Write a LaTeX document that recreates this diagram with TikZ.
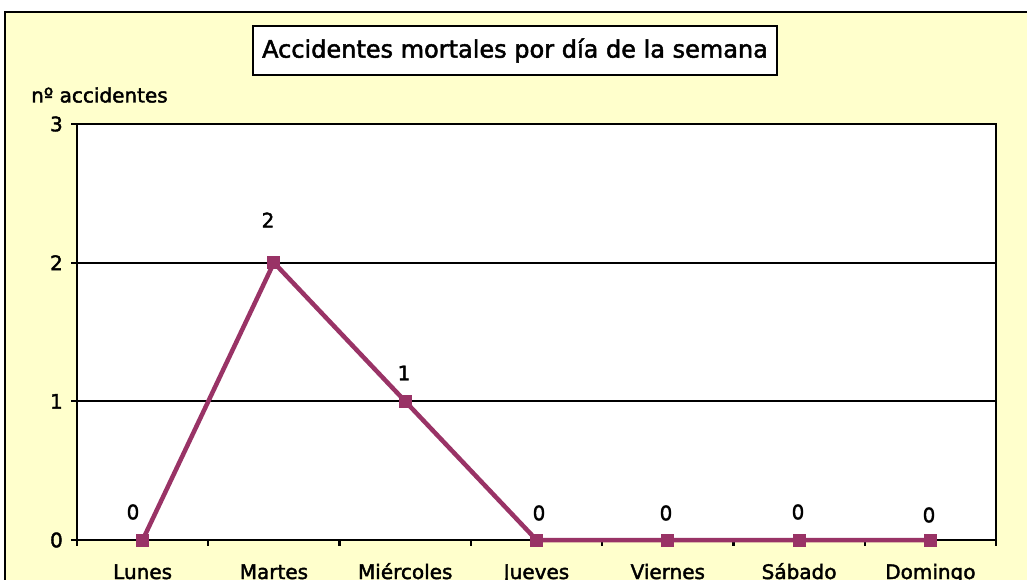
\documentclass[tikz,border=0pt]{standalone}
\usepackage{fontspec}
\setmainfont{DejaVu Sans}[FakeBold=2]
\definecolor{fondo}{HTML}{FFFFCC}
\definecolor{serie}{HTML}{993366}
\tikzset{
	marca/.style={rectangle, fill=serie, minimum size=13pt, inner sep=0pt},
	rotulo/.style={font=\fontsize{20}{24}\selectfont, inner sep=0pt},
	eje/.style={line width=2.2pt},
}
\begin{document}
\begin{tikzpicture}[x=1pt, y=-1pt]
		\useasboundingbox (0,0) rectangle (1027,580);
		\fill[white] (0,0) rectangle (1027,580);
		\draw[line width=2.2pt, fill=fondo] (5,12) rectangle (1040,600);
		\coordinate (A) at (77,540);
		\coordinate (B) at (996,124);
		\draw[eje, fill=white] (A) rectangle (B);
		\foreach \v in {1,2}
			\draw[line width=2pt] (77,{540-138.67*\v}) -- (996,{540-138.67*\v});
		\foreach \v in {0,...,3} {
			\draw[eje] (71,{540-138.67*\v}) -- (77,{540-138.67*\v});
			\node[rotulo, anchor=east] (y\v) at (63,{540-138.67*\v}) {\v};
		}
		\foreach \k in {0,...,7}
			\draw[eje] ({77+131.29*\k},540) -- ++(0,6);
		\foreach \d [count=\i] in {Lunes,Martes,Miércoles,Jueves,Viernes,Sábado,Domingo}
			\node[rotulo, anchor=base] (dia\i) at ({77+131.29*(\i-0.5)},579) {\d};
		\node[rotulo, anchor=west] (ejey) at (31,95) {nº accidentes};
		\node[draw, line width=2pt, fill=white, font=\fontsize{24}{28}\selectfont, minimum width=524pt, minimum height=49pt] (titulo) at (515,50.5) {Accidentes mortales por día de la semana};
		\foreach \v [count=\i] in {0,2,1,0,0,0,0}
			\node[marca] (m\i) at ({77+131.29*(\i-0.5)},{540-138.67*\v}) {};
		\draw[serie, line width=4.5pt, line join=round] (m1.center) -- (m2.center) -- (m3.center) -- (m4.center) -- (m5.center) -- (m6.center) -- (m7.center);
		\foreach \i in {1,...,7}
			\node[marca] (n\i) at (m\i) {};
		\node[rotulo] (l1) at (133,512) {0};
		\node[rotulo] (l2) at (268,220) {2};
		\node[rotulo] (l3) at (404,373) {1};
		\node[rotulo] (l4) at (539,513) {0};
		\node[rotulo] (l5) at (666,513) {0};
		\node[rotulo] (l6) at (798,512) {0};
		\node[rotulo] (l7) at (929,515) {0};
	\end{tikzpicture}
\end{document}
